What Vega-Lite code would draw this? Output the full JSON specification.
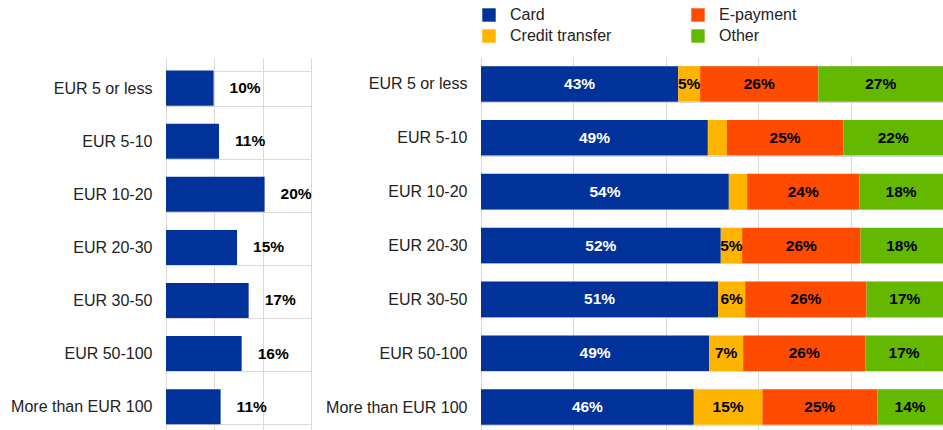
{
  "$schema": "https://vega.github.io/schema/vega-lite/v6.json",
  "autosize": {"type": "pad"},
  "padding": {"left": 10, "top": 7, "right": 0, "bottom": 0},
  "background": "white",
  "config": {
    "font": "Liberation Sans",
    "view": {"stroke": null},
    "axis": {"labelFont": "Liberation Sans", "labelFontSize": 16, "labelColor": "#222222", "gridColor": "#d9d9d9", "gridWidth": 1, "domain": false, "ticks": false, "title": null}
  },
  "datasets": {
    "left": [
      {"cat": "EUR 5 or less", "v": 9.85, "label": "10%"},
      {"cat": "EUR 5-10", "v": 10.97, "label": "11%"},
      {"cat": "EUR 10-20", "v": 20.4, "label": "20%"},
      {"cat": "EUR 20-30", "v": 14.7, "label": "15%"},
      {"cat": "EUR 30-50", "v": 17.1, "label": "17%"},
      {"cat": "EUR 50-100", "v": 15.65, "label": "16%"},
      {"cat": "More than EUR 100", "v": 11.3, "label": "11%"}
    ],
    "cats": [
      {"cat": "EUR 5 or less"}, {"cat": "EUR 5-10"}, {"cat": "EUR 10-20"}, {"cat": "EUR 20-30"}, {"cat": "EUR 30-50"}, {"cat": "EUR 50-100"}, {"cat": "More than EUR 100"}
    ],
    "right": [
      {"cat": "EUR 5 or less", "s": "Card", "k": 1, "v": 42.67, "lab": "43%"},
      {"cat": "EUR 5 or less", "s": "Credit transfer", "k": 2, "v": 4.76, "lab": "5%"},
      {"cat": "EUR 5 or less", "s": "E-payment", "k": 3, "v": 25.6, "lab": "26%"},
      {"cat": "EUR 5 or less", "s": "Other", "k": 4, "v": 26.97, "lab": "27%"},
      {"cat": "EUR 5-10", "s": "Card", "k": 1, "v": 49.1, "lab": "49%"},
      {"cat": "EUR 5-10", "s": "Credit transfer", "k": 2, "v": 4.12, "lab": ""},
      {"cat": "EUR 5-10", "s": "E-payment", "k": 3, "v": 25.2, "lab": "25%"},
      {"cat": "EUR 5-10", "s": "Other", "k": 4, "v": 21.58, "lab": "22%"},
      {"cat": "EUR 10-20", "s": "Card", "k": 1, "v": 53.64, "lab": "54%"},
      {"cat": "EUR 10-20", "s": "Credit transfer", "k": 2, "v": 3.97, "lab": ""},
      {"cat": "EUR 10-20", "s": "E-payment", "k": 3, "v": 24.26, "lab": "24%"},
      {"cat": "EUR 10-20", "s": "Other", "k": 4, "v": 18.13, "lab": "18%"},
      {"cat": "EUR 20-30", "s": "Card", "k": 1, "v": 51.9, "lab": "52%"},
      {"cat": "EUR 20-30", "s": "Credit transfer", "k": 2, "v": 4.62, "lab": "5%"},
      {"cat": "EUR 20-30", "s": "E-payment", "k": 3, "v": 25.63, "lab": "26%"},
      {"cat": "EUR 20-30", "s": "Other", "k": 4, "v": 17.85, "lab": "18%"},
      {"cat": "EUR 30-50", "s": "Card", "k": 1, "v": 51.33, "lab": "51%"},
      {"cat": "EUR 30-50", "s": "Credit transfer", "k": 2, "v": 5.85, "lab": "6%"},
      {"cat": "EUR 30-50", "s": "E-payment", "k": 3, "v": 26.28, "lab": "26%"},
      {"cat": "EUR 30-50", "s": "Other", "k": 4, "v": 16.54, "lab": "17%"},
      {"cat": "EUR 50-100", "s": "Card", "k": 1, "v": 49.38, "lab": "49%"},
      {"cat": "EUR 50-100", "s": "Credit transfer", "k": 2, "v": 7.36, "lab": "7%"},
      {"cat": "EUR 50-100", "s": "E-payment", "k": 3, "v": 26.42, "lab": "26%"},
      {"cat": "EUR 50-100", "s": "Other", "k": 4, "v": 16.84, "lab": "17%"},
      {"cat": "More than EUR 100", "s": "Card", "k": 1, "v": 46.06, "lab": "46%"},
      {"cat": "More than EUR 100", "s": "Credit transfer", "k": 2, "v": 14.86, "lab": "15%"},
      {"cat": "More than EUR 100", "s": "E-payment", "k": 3, "v": 24.84, "lab": "25%"},
      {"cat": "More than EUR 100", "s": "Other", "k": 4, "v": 14.24, "lab": "14%"}
    ]
  },
  "spacing": 13,
  "resolve": {"legend": {"color": "independent"}, "scale": {"color": "independent"}},
  "hconcat": [
    {
      "width": 145,
      "height": 377,
      "data": {"name": "left"},
      "encoding": {
        "y": {
          "field": "cat", "type": "nominal", "sort": null, "title": null,
          "scale": {"domain": ["EUR 5 or less", "EUR 5-10", "EUR 10-20", "EUR 20-30", "EUR 30-50", "EUR 50-100", "More than EUR 100"], "paddingInner": 0.34, "paddingOuter": 0.17, "range": [4.6, 376.2]},
          "axis": {"labelPadding": 14, "grid": true, "tickBand": "extent", "labelLimit": 300}
        },
        "x": {
          "field": "v", "type": "quantitative", "title": null,
          "scale": {"domain": [0, 30], "nice": false},
          "axis": {"values": [0, 10, 20, 30], "labels": false, "grid": true}
        }
      },
      "layer": [
        {"mark": {"type": "bar", "color": "#003299"}},
        {
          "mark": {"type": "text", "align": "left", "baseline": "middle", "dx": 16, "fontWeight": "bold", "fontSize": 15.5, "color": "#000000"},
          "encoding": {"text": {"field": "label"}}
        }
      ]
    },
    {
      "width": 462,
      "height": 377,
      "layer": [
        {
          "data": {"name": "cats"},
          "mark": {"type": "rule", "color": "#d9d9d9", "strokeWidth": 1},
          "encoding": {
            "y": {"field": "cat", "type": "nominal", "sort": null, "bandPosition": 0.86, "title": null}
          }
        },
        {
          "data": {"name": "right"},
          "mark": {"type": "bar"},
          "encoding": {
            "y": {
              "field": "cat", "type": "nominal", "sort": null, "title": null,
              "scale": {"domain": ["EUR 5 or less", "EUR 5-10", "EUR 10-20", "EUR 20-30", "EUR 30-50", "EUR 50-100", "More than EUR 100"], "paddingInner": 0.34, "paddingOuter": 0.17},
              "axis": {"labelPadding": 14, "grid": true, "tickBand": "extent", "labelLimit": 300}
            },
            "x": {
              "field": "v", "type": "quantitative", "stack": "zero", "title": null,
              "scale": {"domain": [0, 100], "nice": false},
              "axis": {"values": [0, 20, 40, 60, 80, 100], "labels": false, "grid": true}
            },
            "color": {
              "field": "s", "type": "nominal",
              "scale": {"domain": ["Card", "E-payment", "Credit transfer", "Other"], "range": ["#003299", "#FF4B00", "#FFB400", "#65B800"]},
              "legend": {
                "orient": "top", "columns": 2, "title": null, "symbolType": "square", "symbolSize": 180, "symbolStrokeWidth": 0,
                "labelFontSize": 16, "labelColor": "#222222", "labelFont": "Liberation Sans", "columnPadding": 78, "rowPadding": 5, "labelOffset": 13, "offset": 13, "labelLimit": 300,
                "labelExpr": "datum.label == 'Card' ? '\u00a0Card' : datum.label"
              }
            },
            "order": {"field": "k", "type": "quantitative"}
          }
        },
        {
          "data": {"name": "right"},
          "mark": {"type": "text", "align": "center", "baseline": "middle", "fontWeight": "bold", "fontSize": 15.5},
          "encoding": {
            "y": {"field": "cat", "type": "nominal", "sort": null, "title": null},
            "x": {"field": "v", "type": "quantitative", "stack": "zero", "bandPosition": 0.5, "title": null},
            "detail": {"field": "s"},
            "order": {"field": "k", "type": "quantitative"},
            "text": {"field": "lab"},
            "color": {"condition": {"test": "datum.s === 'Card'", "value": "#ffffff"}, "value": "#000000"}
          }
        }
      ]
    }
  ]
}
